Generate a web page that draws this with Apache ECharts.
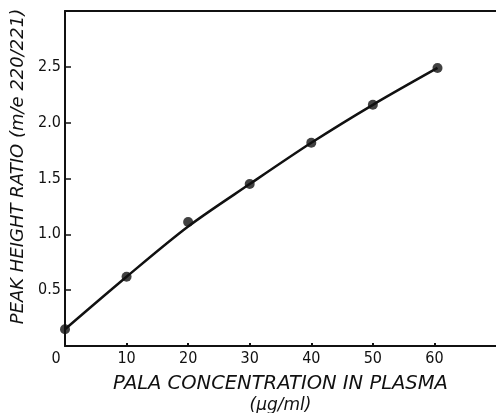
<!DOCTYPE html>
<html>
<head>
<meta charset="utf-8">
<script src="https://cdn.jsdelivr.net/npm/echarts@6/dist/echarts.min.js"></script>
<style>
  html, body { margin: 0; padding: 0; background: #fff; }
  #chart { width: 496px; height: 413px; }
</style>
</head>
<body>
<div id="chart"></div>
<script>
// measured points (PALA ug/ml vs peak height ratio)
const concentration = [0, 10, 20, 30, 40, 50, 60.5];
const peakRatio = [0.15, 0.62, 1.11, 1.45, 1.82, 2.16, 2.49];
// hand drawn calibration curve
const curveX = [0, 10, 20, 30, 40, 50, 60.5];
const curveY = [0.15, 0.62, 1.07, 1.45, 1.82, 2.16, 2.49];
const xTickLabels = ['0', '10', '20', '30', '40', '50', '60'];
const yTickLabels = ['0.5', '1.0', '1.5', '2.0', '2.5'];

const chart = echarts.init(document.getElementById('chart'));

const nameFont = {
  color: '#111',
  fontFamily: 'DejaVu Sans',
  fontStyle: 'italic',
  fontSize: 18
};
const tickFont = {
  color: '#111',
  fontFamily: 'DejaVu Sans Condensed',
  fontSize: 16
};

chart.setOption({
  animation: false,
  backgroundColor: '#fff',
  grid: { left: 65, right: 0, top: 11, bottom: 67, outerBoundsMode: 'none', containLabel: false },
  xAxis: [{
    type: 'value',
    min: 0,
    max: 70,
    interval: 10,
    name: '{a|PALA CONCENTRATION IN PLASMA}\n{b|(μg/ml)}',
    nameLocation: 'middle',
    nameGap: 27,
    nameTextStyle: {
      align: 'center',
      rich: {
        a: Object.assign({}, nameFont, { fontSize: 19.5, lineHeight: 22 }),
        b: Object.assign({}, nameFont, { fontSize: 17, lineHeight: 22 })
      }
    },
    axisLine: { lineStyle: { color: '#111', width: 2 } },
    axisTick: { inside: true, length: 3, lineStyle: { color: '#111', width: 2 } },
    splitLine: { show: false },
    axisLabel: Object.assign({}, tickFont, {
      margin: 5,
      showMaxLabel: false,
      formatter: function (v) {
        const i = xTickLabels.indexOf(String(v));
        if (i < 0) return '';
        return v === 0 ? '{z|' + xTickLabels[i] + '}' : xTickLabels[i];
      },
      rich: { z: Object.assign({}, tickFont, { padding: [0, 18, 0, 0] }) }
    })
  }, {
    type: 'value',
    position: 'top',
    min: 0,
    max: 70,
    axisLine: { show: true, lineStyle: { color: '#111', width: 2 } },
    axisTick: { show: false },
    axisLabel: { show: false },
    splitLine: { show: false }
  }],
  yAxis: {
    type: 'value',
    min: 0,
    max: 3,
    interval: 0.5,
    name: 'PEAK HEIGHT RATIO (m/e 220/221)',
    nameLocation: 'middle',
    nameGap: 38,
    nameTextStyle: Object.assign({}, nameFont, { padding: [0, 0, 0, 24] }),
    axisLine: { show: true, lineStyle: { color: '#111', width: 2 } },
    axisTick: { inside: true, length: 6, lineStyle: { color: '#111', width: 1.5 } },
    splitLine: { show: false },
    axisLabel: Object.assign({}, tickFont, {
      margin: 4,
      showMinLabel: false,
      showMaxLabel: false,
      formatter: function (v) {
        const s = v.toFixed(1);
        return yTickLabels.indexOf(s) >= 0 ? s : '';
      }
    })
  },
  series: [{
    type: 'line',
    data: curveX.map((x, i) => [x, curveY[i]]),
    smooth: 0.3,
    symbol: 'none',
    lineStyle: { color: '#111', width: 2.5 }
  }, {
    type: 'scatter',
    data: concentration.map((x, i) => [x, peakRatio[i]]),
    symbol: 'circle',
    symbolSize: 10,
    itemStyle: { color: '#111' }
  }]
});
</script>
</body>
</html>
